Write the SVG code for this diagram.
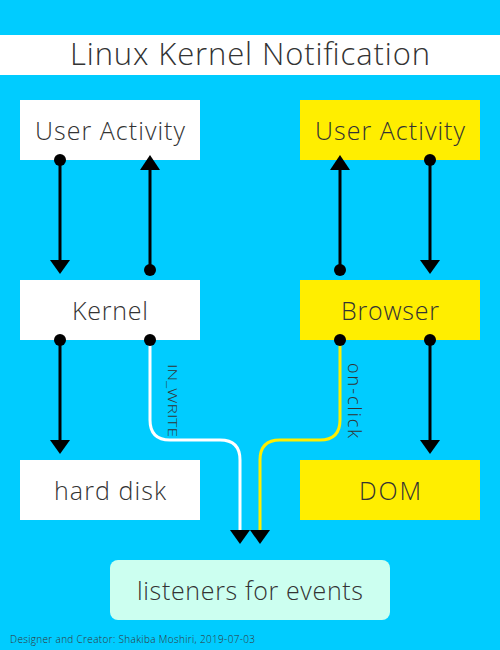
<svg xmlns="http://www.w3.org/2000/svg" width="500" height="650" viewBox="0 0 500 650">
<defs>
<style>
text{font-family:"Open Sans","Noto Sans","DejaVu Sans",sans-serif;font-weight:300;fill:#333;}
.lbl{font-size:25px;text-anchor:middle;}
.w{fill:#ffffff;}
.y{fill:#ffee00;}
.ln{stroke:#000;stroke-width:3;fill:none;}
.dot{fill:#000;}
.head{fill:#000;}
</style>
</defs>
<rect width="500" height="650" fill="#00ccff"/>
<g id="title">
<rect x="0" y="35" width="500" height="40" fill="#fff"/>
<text x="250" y="65" font-size="31" text-anchor="middle" fill="#222" textLength="360" lengthAdjust="spacing">Linux Kernel Notification</text>
</g>
<g id="user-activity-left"><rect class="w" x="20" y="100" width="180" height="60"/><text class="lbl" x="110" y="140" textLength="150" lengthAdjust="spacing">User Activity</text></g>
<g id="user-activity-right"><rect class="y" x="300" y="100" width="180" height="60"/><text class="lbl" x="390" y="140" textLength="150" lengthAdjust="spacing">User Activity</text></g>
<g id="kernel"><rect class="w" x="20" y="280" width="180" height="60"/><text class="lbl" x="110" y="320" textLength="76" lengthAdjust="spacing">Kernel</text></g>
<g id="browser"><rect class="y" x="300" y="280" width="180" height="60"/><text class="lbl" x="390" y="320" textLength="98" lengthAdjust="spacing">Browser</text></g>
<g id="hard-disk"><rect class="w" x="20" y="460" width="180" height="60"/><text class="lbl" x="110" y="500" textLength="112" lengthAdjust="spacing">hard disk</text></g>
<g id="dom"><rect class="y" x="300" y="460" width="180" height="60"/><text class="lbl" x="390" y="500" textLength="62" lengthAdjust="spacing">DOM</text></g>
<g id="listeners"><rect x="110" y="560" width="280" height="60" rx="8" fill="#ccfff0"/><text class="lbl" x="250" y="600" textLength="226" lengthAdjust="spacing">listeners for events</text></g>
<g id="connectors">
<line class="ln" x1="60" y1="160" x2="60" y2="262"/><circle class="dot" cx="60" cy="160" r="6"/><polygon class="head" points="50,260 70,260 60,274"/>
<line class="ln" x1="150" y1="270" x2="150" y2="168"/><circle class="dot" cx="150" cy="270" r="6"/><polygon class="head" points="140,170 160,170 150,155"/>
<line class="ln" x1="340" y1="270" x2="340" y2="168"/><circle class="dot" cx="340" cy="270" r="6"/><polygon class="head" points="330,170 350,170 340,155"/>
<line class="ln" x1="430" y1="160" x2="430" y2="262"/><circle class="dot" cx="430" cy="160" r="6"/><polygon class="head" points="420,260 440,260 430,274"/>
<line class="ln" x1="60" y1="340" x2="60" y2="442"/><circle class="dot" cx="60" cy="340" r="6"/><polygon class="head" points="50,440 70,440 60,454"/>
<line class="ln" x1="430" y1="340" x2="430" y2="442"/><circle class="dot" cx="430" cy="340" r="6"/><polygon class="head" points="420,440 440,440 430,454"/>
<path d="M150,340 V420 Q150,440 170,440 H220 Q240,440 240,460 V532" stroke="#fff" stroke-width="3" fill="none"/>
<circle class="dot" cx="150" cy="340" r="6"/><polygon class="head" points="230,530 250,530 240,544"/>
<path d="M340,340 V420 Q340,440 320,440 H280 Q260,440 260,460 V532" stroke="#ffee00" stroke-width="3" fill="none"/>
<circle class="dot" cx="340" cy="340" r="6"/><polygon class="head" points="250,530 270,530 260,544"/>
<text x="168" y="364" font-size="12.5" fill="#1a5f7a" transform="rotate(90 168 364)" textLength="73" lengthAdjust="spacingAndGlyphs">IN_WRITE</text>
<text x="348" y="363" font-size="18" fill="#1a5f7a" transform="rotate(90 348 363)" textLength="75" lengthAdjust="spacing">on-click</text>
</g>
<text x="10" y="643" font-size="10" fill="#1a5f7a" textLength="245" lengthAdjust="spacing">Designer and Creator: Shakiba Moshiri, 2019-07-03</text>
</svg>
